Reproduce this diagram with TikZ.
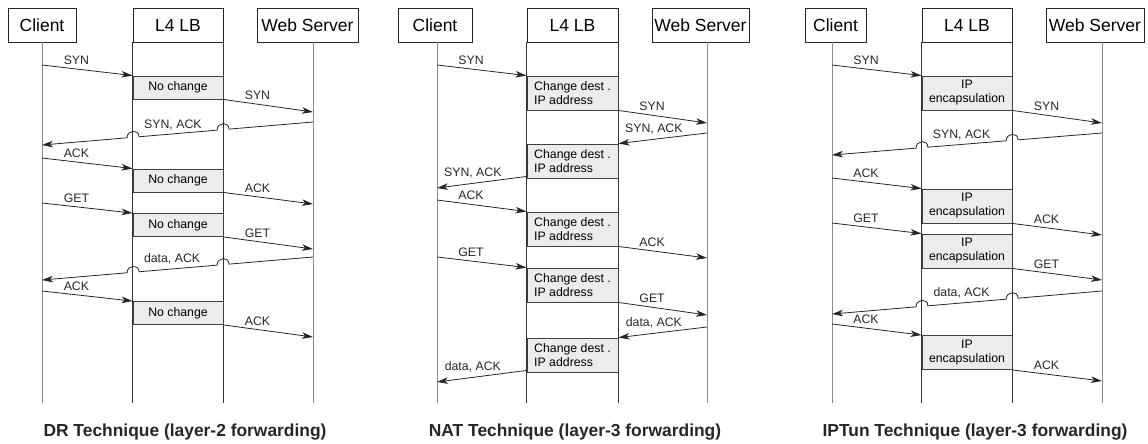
\documentclass[tikz,border=0pt]{standalone}
\usepackage{fontspec}
\setmainfont{Liberation Sans}
\usetikzlibrary{positioning, calc, arrows.meta}

\begin{document}
\begin{tikzpicture}[x=1pt, y=-1pt]
\tikzset{hdr/.style={
    rectangle, draw=black!85, fill=white, line width=0.8pt, minimum height=34pt, inner sep=0pt, font=\fontsize{17.5}{20}\selectfont},
    proc/.style={
    rectangle, draw=black!75, fill=gray!15, line width=0.9pt, minimum width=90pt, inner sep=0pt, font=\fontsize{12.3}{14}\selectfont},
    msg/.style={line width=0.8pt, draw=black!85, -{Stealth[length=11pt, width=6.5pt, inset=3pt]}},
    lbl/.style={font=\fontsize{12.3}{14}\selectfont, inner sep=1pt, text height=9pt, text depth=0pt, text=black!85},
    ttl/.style={font=\fontsize{17.4}{20}\selectfont\bfseries, text=black!85},
    life/.style={line width=0.9pt, draw=black!45},
    lbline/.style={line width=0.9pt, draw=black!80}
}
\useasboundingbox (0,0) rectangle (1148,444);

    % DR technique
    \node[hdr, minimum width=68pt] (dr-cl) at (42,25) {Client};
    \node[hdr, minimum width=90pt] (dr-lb) at (178,25) {L4 LB};
    \node[hdr, minimum width=101pt] (dr-ws) at (307.5,25) {Web Server};
    \coordinate (dr-C) at (42,42);
    \coordinate (dr-S) at (313,42);
    \draw[life] (dr-C) -- ++(0,361);
    \draw[life] (dr-S) -- ++(0,361);
    \draw[lbline] (dr-lb.south west) -- ++(0,361);
    \draw[lbline] (dr-lb.south east) -- ++(0,361);

    \node[proc, minimum height=23pt] (dr-p1) at (178,87.5) {No change};
    \node[proc, minimum height=23pt] (dr-p2) at (178,180.5) {No change};
    \node[proc, minimum height=23pt] (dr-p3) at (178,225) {No change};
    \node[proc, minimum height=23pt] (dr-p4) at (178,313) {No change};

    \coordinate (dr-c1) at (42,65);
    \coordinate (dr-s1) at (313,112);
    \coordinate (dr-s2) at (313,122);
    \coordinate (dr-c2) at (42,145);
    \coordinate (dr-c3) at (42,158);
    \coordinate (dr-s3) at (313,204);
    \coordinate (dr-c4) at (42,203);
    \coordinate (dr-s4) at (313,249);
    \coordinate (dr-s5) at (313,257);
    \coordinate (dr-c5) at (42,280);
    \coordinate (dr-c6) at (42,291);
    \coordinate (dr-s6) at (313,337);

    \draw[msg] (dr-c1) -- (dr-p1.north west) node[lbl, pos=0.38, above=3pt] (dr-m1) {SYN};
    \draw[msg] (dr-p1.south east) -- (dr-s1) node[lbl, pos=0.38, above=3pt] (dr-m2) {SYN};
    \draw[msg] (dr-s2) -- ($(dr-s2)!0.310!(dr-c2)$) .. controls +(0,-8) and +(0,-8) .. ($(dr-s2)!0.354!(dr-c2)$)
        -- ($(dr-s2)!0.642!(dr-c2)$) .. controls +(0,-8) and +(0,-8) .. ($(dr-s2)!0.686!(dr-c2)$) -- (dr-c2);
    \node[lbl, above=4.5pt] (dr-m3) at ($(dr-s2)!0.517!(dr-c2)$) {SYN, ACK};
    \draw[msg] (dr-c3) -- (dr-p2.north west) node[lbl, pos=0.38, above=3pt] (dr-m4) {ACK};
    \draw[msg] (dr-p2.south east) -- (dr-s3) node[lbl, pos=0.38, above=3pt] (dr-m5) {ACK};
    \draw[msg] (dr-c4) -- (dr-p3.north west) node[lbl, pos=0.38, above=3pt] (dr-m6) {GET};
    \draw[msg] (dr-p3.south east) -- (dr-s4) node[lbl, pos=0.38, above=3pt] (dr-m7) {GET};
    \draw[msg] (dr-s5) -- ($(dr-s5)!0.310!(dr-c5)$) .. controls +(0,-8) and +(0,-8) .. ($(dr-s5)!0.354!(dr-c5)$)
        -- ($(dr-s5)!0.642!(dr-c5)$) .. controls +(0,-8) and +(0,-8) .. ($(dr-s5)!0.686!(dr-c5)$) -- (dr-c5);
    \node[lbl, above=5pt] (dr-m8) at ($(dr-s5)!0.52!(dr-c5)$) {data, ACK};
    \draw[msg] (dr-c6) -- (dr-p4.north west) node[lbl, pos=0.38, above=3pt] (dr-m9) {ACK};
    \draw[msg] (dr-p4.south east) -- (dr-s6) node[lbl, pos=0.38, above=3pt] (dr-m10) {ACK};

    \node[ttl] (dr-title) at (185,432) {DR Technique (layer-2 forwarding)};

    % NAT technique
    \node[hdr, minimum width=74pt] (nat-cl) at (435,25) {Client};
    \node[hdr, minimum width=91pt] (nat-lb) at (572.5,25) {L4 LB};
    \node[hdr, minimum width=97pt] (nat-ws) at (700.5,25) {Web Server};
    \coordinate (nat-C) at (437,42);
    \coordinate (nat-S) at (707,42);
    \draw[life] (nat-C) -- ++(0,361);
    \draw[life] (nat-S) -- ++(0,361);
    \draw[lbline] (nat-lb.south west) -- ++(0,361);
    \draw[lbline] (nat-lb.south east) -- ++(0,361);

    \node[proc, minimum width=91pt, minimum height=34pt, align=left] (nat-p1) at (572.5,93) {Change dest .\\IP address};
    \node[proc, minimum width=91pt, minimum height=34pt, align=left] (nat-p2) at (572.5,161) {Change dest .\\IP address};
    \node[proc, minimum width=91pt, minimum height=34pt, align=left] (nat-p3) at (572.5,229) {Change dest .\\IP address};
    \node[proc, minimum width=91pt, minimum height=34pt, align=left] (nat-p4) at (572.5,285) {Change dest .\\IP address};
    \node[proc, minimum width=91pt, minimum height=34pt, align=left] (nat-p5) at (572.5,355) {Change dest .\\IP address};

    \coordinate (nat-c1) at (437,65);
    \coordinate (nat-s1) at (707,123);
    \coordinate (nat-s2) at (707,133);
    \coordinate (nat-c2) at (437,188);
    \coordinate (nat-c3) at (437,200);
    \coordinate (nat-s3) at (707,258);
    \coordinate (nat-c4) at (437,257);
    \coordinate (nat-s4) at (707,315);
    \coordinate (nat-s5) at (707,327);
    \coordinate (nat-c5) at (437,382);

    \draw[msg] (nat-c1) -- (nat-p1.north west) node[lbl, pos=0.38, above=3pt] (nat-m1) {SYN};
    \draw[msg] (nat-p1.south east) -- (nat-s1) node[lbl, pos=0.38, above=3pt] (nat-m2) {SYN};
    \draw[msg] (nat-s2) -- (nat-p2.north east) node[lbl, pos=0.6, above=5pt] (nat-m3) {SYN, ACK};
    \draw[msg] ($(nat-p2.south west)+(0,-2)$) -- (nat-c2) node[lbl, pos=0.6, above=5pt] (nat-m4) {SYN, ACK};
    \draw[msg] (nat-c3) -- (nat-p3.north west) node[lbl, pos=0.38, above=3pt] (nat-m5) {ACK};
    \draw[msg] (nat-p3.south east) -- (nat-s3) node[lbl, pos=0.38, above=3pt] (nat-m6) {ACK};
    \draw[msg] (nat-c4) -- (nat-p4.north west) node[lbl, pos=0.38, above=3pt] (nat-m7) {GET};
    \draw[msg] (nat-p4.south east) -- (nat-s4) node[lbl, pos=0.38, above=3pt] (nat-m8) {GET};
    \draw[msg] (nat-s5) -- (nat-p5.north east) node[lbl, pos=0.6, above=5pt] (nat-m9) {data, ACK};
    \draw[msg] ($(nat-p5.south west)+(0,-2)$) -- (nat-c5) node[lbl, pos=0.6, above=5pt] (nat-m10) {data, ACK};

    \node[ttl] (nat-title) at (575,432) {NAT Technique (layer-3 forwarding)};

    % IPTun technique
    \node[hdr, minimum width=61pt] (ipt-cl) at (835.5,25) {Client};
    \node[hdr, minimum width=90pt] (ipt-lb) at (967,25) {L4 LB};
    \node[hdr, minimum width=98pt] (ipt-ws) at (1095,25) {Web Server};
    \coordinate (ipt-C) at (832,42);
    \coordinate (ipt-S) at (1102,42);
    \draw[life] (ipt-C) -- ++(0,361);
    \draw[life] (ipt-S) -- ++(0,361);
    \draw[lbline] (ipt-lb.south west) -- ++(0,361);
    \draw[lbline] (ipt-lb.south east) -- ++(0,361);

    \node[proc, minimum height=34pt, align=center] (ipt-p1) at (967,93) {IP\\encapsulation};
    \node[proc, minimum height=34pt, align=center] (ipt-p2) at (967,206) {IP\\encapsulation};
    \node[proc, minimum height=34pt, align=center] (ipt-p3) at (967,251) {IP\\encapsulation};
    \node[proc, minimum height=34pt, align=center] (ipt-p4) at (967,352.5) {IP\\encapsulation};

    \coordinate (ipt-c1) at (832,65);
    \coordinate (ipt-s1) at (1102,123);
    \coordinate (ipt-s2) at (1102,133);
    \coordinate (ipt-c2) at (832,155);
    \coordinate (ipt-c3) at (832,178);
    \coordinate (ipt-s3) at (1102,235);
    \coordinate (ipt-c4) at (832,223);
    \coordinate (ipt-s4) at (1102,280);
    \coordinate (ipt-s5) at (1102,291);
    \coordinate (ipt-c5) at (832,314);
    \coordinate (ipt-c6) at (832,324);
    \coordinate (ipt-s6) at (1102,381);

    \draw[msg] (ipt-c1) -- (ipt-p1.north west) node[lbl, pos=0.38, above=3pt] (ipt-m1) {SYN};
    \draw[msg] (ipt-p1.south east) -- (ipt-s1) node[lbl, pos=0.38, above=3pt] (ipt-m2) {SYN};
    \draw[msg] (ipt-s2) -- ($(ipt-s2)!0.311!(ipt-c2)$) .. controls +(0,-8) and +(0,-8) .. ($(ipt-s2)!0.355!(ipt-c2)$)
        -- ($(ipt-s2)!0.645!(ipt-c2)$) .. controls +(0,-8) and +(0,-8) .. ($(ipt-s2)!0.689!(ipt-c2)$) -- (ipt-c2);
    \node[lbl, above=4.5pt] (ipt-m3) at ($(ipt-s2)!0.52!(ipt-c2)$) {SYN, ACK};
    \draw[msg] (ipt-c3) -- (ipt-p2.north west) node[lbl, pos=0.38, above=3pt] (ipt-m4) {ACK};
    \draw[msg] (ipt-p2.south east) -- (ipt-s3) node[lbl, pos=0.38, above=3pt] (ipt-m5) {ACK};
    \draw[msg] (ipt-c4) -- (ipt-p3.north west) node[lbl, pos=0.38, above=3pt] (ipt-m6) {GET};
    \draw[msg] (ipt-p3.south east) -- (ipt-s4) node[lbl, pos=0.38, above=3pt] (ipt-m7) {GET};
    \draw[msg] (ipt-s5) -- ($(ipt-s5)!0.311!(ipt-c5)$) .. controls +(0,-8) and +(0,-8) .. ($(ipt-s5)!0.355!(ipt-c5)$)
        -- ($(ipt-s5)!0.645!(ipt-c5)$) .. controls +(0,-8) and +(0,-8) .. ($(ipt-s5)!0.689!(ipt-c5)$) -- (ipt-c5);
    \node[lbl, above=5pt] (ipt-m8) at ($(ipt-s5)!0.52!(ipt-c5)$) {data, ACK};
    \draw[msg] (ipt-c6) -- (ipt-p4.north west) node[lbl, pos=0.38, above=3pt] (ipt-m9) {ACK};
    \draw[msg] (ipt-p4.south east) -- (ipt-s6) node[lbl, pos=0.38, above=3pt] (ipt-m10) {ACK};

    \node[ttl] (ipt-title) at (975,432) {IPTun Technique (layer-3 forwarding)};

\end{tikzpicture}
\end{document}
